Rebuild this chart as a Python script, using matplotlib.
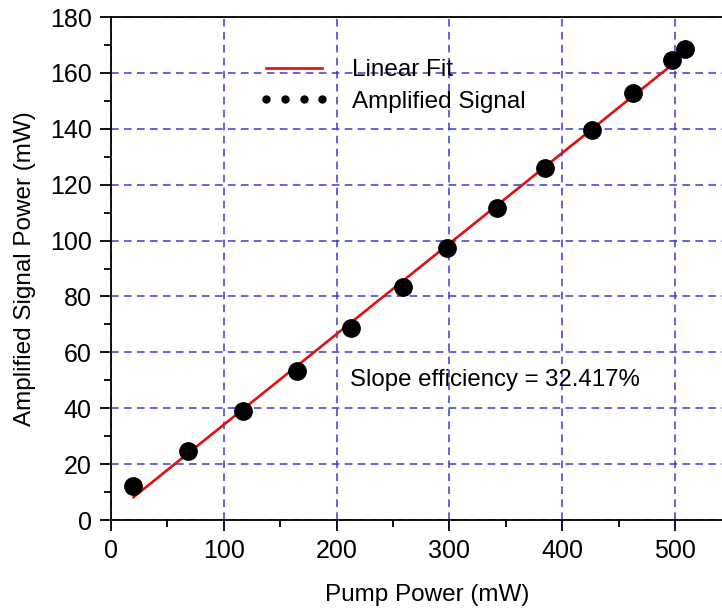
import numpy as np
import matplotlib
matplotlib.use('Agg')
import matplotlib.pyplot as plt
from matplotlib.lines import Line2D
from matplotlib.ticker import MultipleLocator

plt.rcParams['font.family'] = ['Liberation Sans', 'DejaVu Sans']

# pump power vs amplified signal power (mW)
pump = [19.5, 68, 116.7, 164.5, 212.5, 259, 297.5, 342, 385, 426, 463, 497, 509]
signal = [12.2, 24.8, 39.0, 53.3, 68.8, 83.5, 97.5, 111.7, 126.0, 139.6, 152.7, 164.6, 168.6]

slope = 0.32417
intercept = 1.7
fit_x = np.array([20, 504])
fit_y = slope * fit_x + intercept

fig = plt.figure(figsize=(7.22, 6.11), dpi=100)
ax = fig.add_axes([0.1537, 0.1489, 0.875, 0.8232])

ax.plot(fit_x, fit_y, color='#e01010', linewidth=1.9, zorder=3)
ax.plot(pump, signal, 'o', color='black', markersize=12.5, zorder=4)

ax.set_xlim(0, 560)
ax.set_ylim(0, 180)
ax.xaxis.set_major_locator(MultipleLocator(100))
ax.xaxis.set_minor_locator(MultipleLocator(50))
ax.yaxis.set_major_locator(MultipleLocator(20))
ax.yaxis.set_minor_locator(MultipleLocator(10))
ax.tick_params(which='major', direction='out', length=8, width=1.3, labelsize=18, pad=6)
ax.tick_params(which='minor', direction='out', length=5, width=1.3)
ax.tick_params(top=False, right=False)
for s in ax.spines.values():
    s.set_linewidth(1.3)
ax.spines['right'].set_visible(False)

ax.grid(True, which='major', color='#3a3ad0', linestyle=(0, (5, 3.5)), linewidth=1.1)
ax.set_axisbelow(True)

ax.set_xlabel('Pump Power (mW)', fontsize=17.5, labelpad=15)
ax.set_ylabel('Amplified Signal Power (mW)', fontsize=17.5, labelpad=10)

ax.text(212, 50, 'Slope efficiency = 32.417%', fontsize=17.3, ha='left', va='center')

handles = [Line2D([], [], color='#e01010', linewidth=1.9),
           Line2D([], [], linestyle='none', marker='o', color='black', markersize=5)]
ax.legend(handles, ['Linear Fit', 'Amplified Signal'], loc='upper left',
          bbox_to_anchor=(0.2, 0.96), frameon=False, fontsize=17.5,
          numpoints=4, handlelength=2.9, handletextpad=0.9, labelspacing=0.4)

fig.savefig('out.png', dpi=100)
